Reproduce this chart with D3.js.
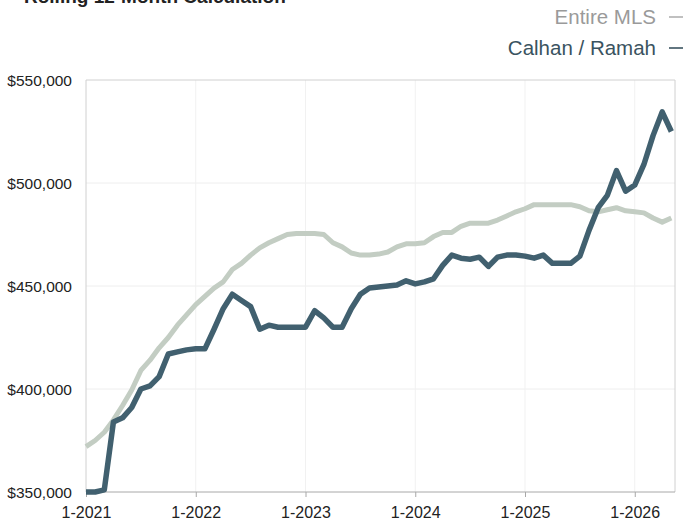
<!DOCTYPE html>
<html><head><meta charset="utf-8">
<script src="https://cdn.jsdelivr.net/npm/d3@7"></script>
<style>body{margin:0;background:#fff;} svg{display:block;}</style>
</head><body>
<script>
const startYear = 2021;
const tickLabels = ["1-2021","1-2022","1-2023","1-2024","1-2025","1-2026"];
const yTicks = [350000,400000,450000,500000,550000];
const calhan = [350000,350000,351000,384000,386000,391000,400000,401500,406000,417000,418000,419000,
  419500,419500,429000,439000,446000,443000,440000,429000,431000,430000,430000,430000,
  430000,438000,434500,430000,430000,439000,446000,449000,449500,450000,450500,452500,
  451000,452000,453500,460000,465000,463500,463000,464000,459500,464000,465000,465000,
  464500,463500,465000,461000,461000,461000,464500,477000,488000,494000,506000,496000,
  499000,509000,523000,534500,525000];
const mls = [372000,375000,379000,385000,392000,399500,409000,414000,420000,425000,431000,436000,
  441000,445000,449000,452000,458000,461000,465000,468500,471000,473000,475000,475500,
  475500,475500,475000,471000,469000,466000,465000,465000,465500,466500,469000,470500,
  470500,471000,474000,476000,476000,479000,480500,480500,480500,482000,484000,486000,
  487500,489500,489500,489500,489500,489500,488500,486500,486000,487000,488000,486500,
  486000,485500,483000,481000,483000];

const W=687,H=522;
const svg=d3.select("body").append("svg").attr("width",W).attr("height",H);
const L=86,R=675,T=80,B=492;
const x=d3.scaleLinear().domain([0,64.4]).range([L,R]);
const y=d3.scaleLinear().domain([350000,550000]).range([B,T]);
const font="'Liberation Sans', Arial, Helvetica, sans-serif";

// title (cut off at top, as in the reference)
svg.append("text").attr("x",24).attr("y",3).attr("font-family",font).attr("font-size",19)
  .attr("font-weight","bold").attr("fill","#222").text("Rolling 12-Month Calculation");

// legend
const leg=[{t:"Entire MLS",c:"#9a9a9a",lc:"#b0b0b0",y:24},{t:"Calhan / Ramah",c:"#3a5360",lc:"#3a5360",y:55}];
leg.forEach(d=>{
  svg.append("text").attr("x",656).attr("y",d.y).attr("text-anchor","end").attr("font-family",font)
    .attr("font-size",20.5).attr("fill",d.c).text(d.t);
  svg.append("line").attr("x1",669).attr("x2",683).attr("y1",d.y-7).attr("y2",d.y-7)
    .attr("stroke",d.lc).attr("stroke-width",1.6);
});

// gridlines
svg.append("g").selectAll("line").data(yTicks.slice(1,4)).join("line")
  .attr("x1",L).attr("x2",R).attr("y1",d=>y(d)).attr("y2",d=>y(d)).attr("stroke","#eeeeee").attr("stroke-width",1);
svg.append("g").selectAll("line").data(tickLabels.slice(1)).join("line")
  .attr("x1",(d,i)=>x((i+1)*12)).attr("x2",(d,i)=>x((i+1)*12)).attr("y1",T).attr("y2",B).attr("stroke","#f1f1f1");

// frame
svg.append("path").attr("d",`M${L},${B}V${T}H${R}V${B}`).attr("fill","none").attr("stroke","#d0d0d0").attr("stroke-width",1);

// x axis
const xa=svg.append("g").attr("transform",`translate(0,${B})`)
  .call(d3.axisBottom(x).tickValues(tickLabels.map((d,i)=>i*12)).tickFormat((d,i)=>tickLabels[i]).tickSize(5).tickPadding(10));
xa.select(".domain").attr("stroke","#a8a8a8").attr("d",`M${L},0H${R}`);
xa.selectAll(".tick line").attr("stroke","#a8a8a8");
xa.selectAll("text").attr("font-family",font).attr("font-size",16).attr("fill","#222");

// y axis labels
svg.append("g").selectAll("text").data(yTicks).join("text")
  .attr("x",72).attr("y",d=>y(d)+5.5).attr("text-anchor","end").attr("font-family",font)
  .attr("font-size",15.5).attr("fill","#222").text(d=>d3.format("$,")(d));

const line=d3.line().x((d,i)=>x(i)).y(d=>y(d));
svg.append("path").datum(mls).attr("d",line).attr("fill","none").attr("stroke","#c3cdc3")
  .attr("stroke-width",5).attr("stroke-linejoin","round");
svg.append("path").datum(calhan).attr("d",line).attr("fill","none").attr("stroke","#41606f")
  .attr("stroke-width",5.5).attr("stroke-linejoin","round");
</script>
</body></html>
